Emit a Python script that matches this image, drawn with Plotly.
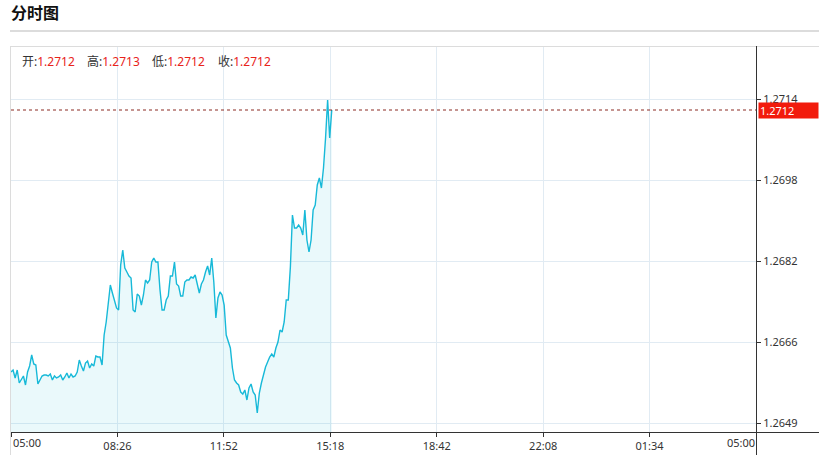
import plotly.graph_objects as go

# ---------------- data ----------------
title_text = "分时图"
ohlc_labels = ["开:", "高:", "低:", "收:"]
ohlc_values = ["1.2712", "1.2713", "1.2712", "1.2712"]
last_price = 1.2712

# minutes after 05:00, one sample every 4 minutes (05:00 .. 15:20)
minutes = list(range(0, 621, 4))
prices = [
    1.26596, 1.26600, 1.26584, 1.26600, 1.26574, 1.26580, 1.26588, 1.26570, 1.26596, 1.26608,
    1.26630, 1.26612, 1.26610, 1.26572, 1.26580, 1.26588, 1.26590, 1.26590, 1.26588, 1.26592,
    1.26580, 1.26588, 1.26584, 1.26586, 1.26590, 1.26580, 1.26586, 1.26594, 1.26584, 1.26592,
    1.26586, 1.26588, 1.26596, 1.26620, 1.26608, 1.26598, 1.26614, 1.26618, 1.26604, 1.26612,
    1.26608, 1.26628, 1.26626, 1.26626, 1.26610, 1.26670, 1.26696, 1.26740, 1.26770, 1.26754,
    1.26740, 1.26724, 1.26720, 1.26810, 1.26840, 1.26804, 1.26796, 1.26788, 1.26784, 1.26720,
    1.26716, 1.26752, 1.26748, 1.26730, 1.26750, 1.26780, 1.26774, 1.26780, 1.26816, 1.26824,
    1.26816, 1.26816, 1.26760, 1.26720, 1.26720, 1.26740, 1.26748, 1.26788, 1.26788, 1.26816,
    1.26772, 1.26768, 1.26748, 1.26748, 1.26776, 1.26780, 1.26780, 1.26786, 1.26784, 1.26790,
    1.26772, 1.26754, 1.26772, 1.26780, 1.26796, 1.26808, 1.26790, 1.26824, 1.26776, 1.26704,
    1.26744, 1.26756, 1.26750, 1.26730, 1.26670, 1.26656, 1.26644, 1.26604, 1.26580, 1.26574,
    1.26570, 1.26556, 1.26552, 1.26560, 1.26540, 1.26564, 1.26572, 1.26556, 1.26550, 1.26514,
    1.26554, 1.26574, 1.26592, 1.26606, 1.26616, 1.26626, 1.26632, 1.26626, 1.26644, 1.26656,
    1.26680, 1.26676, 1.26696, 1.26740, 1.26740, 1.26806, 1.26910, 1.26884, 1.26884, 1.26890,
    1.26884, 1.26870, 1.26920, 1.26860, 1.26836, 1.26860, 1.26920, 1.26930, 1.26970, 1.26984,
    1.26964, 1.27004, 1.27064, 1.27140, 1.27064, 1.27120,
]

x_tick_vals = [0, 205.7, 411.4, 617.1, 822.9, 1028.6, 1234.3, 1440]
x_tick_text = ["05:00", "08:26", "11:52", "15:18", "18:42", "22:08", "01:34", "05:00"]
y_tick_vals = [1.26494, 1.26656, 1.26818, 1.26980, 1.27142]
y_tick_text = ["1.2649", "1.2666", "1.2682", "1.2698", "1.2714"]
y_range = [1.26476, 1.27248]
x_range = [0, 1440]

# ---------------- layout helpers (pixel -> paper) ----------------
W, H = 819, 455
L, R, T, B = 11, 756, 46, 432
def px(x):
    return (x - L) / (R - L)
def py(y):
    return (B - y) / (B - T)

FONT = "Noto Sans, Noto Sans CJK SC, sans-serif"
GRID = "#e1ebf3"

fig = go.Figure()
fig.add_trace(go.Scatter(
    x=minutes, y=prices, mode="lines",
    line=dict(color="#17b9d8", width=1.4),
    fill="tozeroy", fillcolor="rgba(23,185,216,0.09)",
    hoverinfo="skip", showlegend=False,
))

shapes = [
    # title underline
    dict(type="line", xref="paper", yref="paper", x0=px(10), x1=px(819), y0=py(31), y1=py(31),
         line=dict(color="#d0d0d0", width=1.5)),
    # outer light box (top + left)
    dict(type="line", xref="paper", yref="paper", x0=px(10), x1=px(819), y0=py(46.5), y1=py(46.5),
         line=dict(color="#dcdcdc", width=1)),
    dict(type="line", xref="paper", yref="paper", x0=px(10.5), x1=px(10.5), y0=py(46), y1=py(455),
         line=dict(color="#dcdcdc", width=1)),
    # last-price dotted line
    dict(type="line", xref="paper", yref="y", x0=0, x1=1, y0=last_price, y1=last_price,
         line=dict(color="#8b2a22", width=1, dash="dot")),
    # bottom axis line extended to the right edge
    dict(type="line", xref="paper", yref="paper", x0=px(11), x1=px(819), y0=py(432.5), y1=py(432.5),
         line=dict(color="#333333", width=1)),
    # right axis line extended down
    dict(type="line", xref="paper", yref="paper", x0=px(756.5), x1=px(756.5), y0=py(46), y1=py(455),
         line=dict(color="#333333", width=1)),
]

annotations = [
    dict(text="<b>" + title_text + "</b>", xref="paper", yref="paper", x=px(9), y=py(13),
         xanchor="left", yanchor="middle", showarrow=False,
         font=dict(family=FONT, size=16, color="#111111")),
    # last price badge
    dict(text="1.2712", xref="paper", yref="y", x=px(758), y=last_price,
         xanchor="left", yanchor="middle", showarrow=False, align="left",
         bgcolor="#f21b0c", width=57, height=13, borderpad=1,
         font=dict(family=FONT, size=11, color="#ffffff")),
    # first / last x labels (edge aligned)
    dict(text=x_tick_text[0], xref="paper", yref="paper", x=px(11), y=py(442),
         xanchor="left", yanchor="middle", showarrow=False,
         font=dict(family=FONT, size=11, color="#333333")),
    dict(text=x_tick_text[-1], xref="paper", yref="paper", x=px(757), y=py(442),
         xanchor="right", yanchor="middle", showarrow=False,
         font=dict(family=FONT, size=11, color="#333333")),
]

ohlc_x = [20, 85, 150, 216]
for lab, val, xx in zip(ohlc_labels, ohlc_values, ohlc_x):
    annotations.append(dict(
        text=lab + '<span style="color:#e8231a">' + val + "</span>",
        xref="paper", yref="paper", x=px(xx), y=py(61), xanchor="left", yanchor="middle",
        showarrow=False, font=dict(family=FONT, size=12, color="#333333")))

fig.update_layout(
    width=W, height=H, autosize=False,
    margin=dict(l=L, r=W - R, t=T, b=H - B, pad=0, autoexpand=False),
    paper_bgcolor="white", plot_bgcolor="white",
    font=dict(family=FONT, size=11, color="#333333"),
    showlegend=False,
    shapes=shapes, annotations=annotations,
    xaxis=dict(range=x_range, tickmode="array", tickvals=x_tick_vals,
               ticktext=[""] + x_tick_text[1:-1] + [""], automargin=False,
               showgrid=True, gridcolor=GRID, gridwidth=1,
               ticks="outside", ticklen=4, tickcolor="#333333",
               showline=False, zeroline=False, fixedrange=True,
               tickfont=dict(family=FONT, size=11, color="#333333")),
    yaxis=dict(range=y_range, side="right", tickmode="array", tickvals=y_tick_vals,
               ticktext=y_tick_text, automargin=False,
               showgrid=True, gridcolor=GRID, gridwidth=1,
               ticks="outside", ticklen=4, tickcolor="#333333",
               showline=False, zeroline=False, fixedrange=True,
               tickfont=dict(family=FONT, size=11, color="#333333")),
)

fig.write_html("out.html", config={"displayModeBar": False},
               post_script="document.body.style.margin='0';document.body.style.overflow='hidden';")
